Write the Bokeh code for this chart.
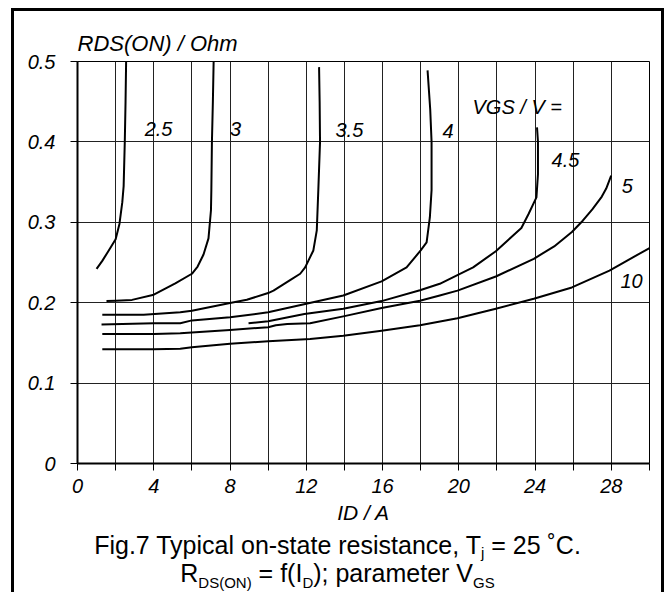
from bokeh.plotting import figure
from bokeh.layouts import column
from bokeh.models import (Range1d, FixedTicker, CustomJSTickFormatter, Label, Div)
from bokeh.core.properties import value
from bokeh.embed import file_html
from bokeh.resources import INLINE

# ---- data: RDS(on) [Ohm] versus ID [A] for each gate voltage VGS ----
vgs_labels = ["2.5", "3", "3.5", "4", "4.5", "5", "10"]

id_2v5 = [1.0, 1.3, 1.64, 2.0, 2.2, 2.35, 2.42, 2.48, 2.52, 2.55]
r_2v5 = [0.242, 0.252, 0.265, 0.279, 0.298, 0.325, 0.345, 0.40, 0.45, 0.50]

id_3v = [1.52, 2.0, 2.86, 4.0, 5.13, 6.0, 6.3, 6.61, 6.87, 7.0, 7.02, 7.05, 7.1, 7.14]
r_3v = [0.202, 0.2025, 0.2035, 0.21, 0.224, 0.236, 0.245, 0.26, 0.28, 0.315, 0.34, 0.40, 0.45, 0.50]

id_3v5 = [1.3, 3.47, 5.39, 6.0, 8.0, 8.88, 10.0, 10.28, 11.15, 11.68, 11.94, 12.37,
          12.55, 12.63, 12.72, 12.7, 12.67]
r_3v5 = [0.185, 0.185, 0.188, 0.19, 0.1995, 0.2036, 0.212, 0.215, 0.228, 0.236, 0.244,
         0.265, 0.29, 0.34, 0.40, 0.45, 0.493]

id_4v = [1.26, 4.0, 5.39, 6.0, 8.0, 10.0, 12.0, 13.94, 15.95, 17.26, 18.0, 18.31,
         18.48, 18.57, 18.57, 18.5, 18.36]
r_4v = [0.173, 0.1745, 0.1745, 0.178, 0.182, 0.188, 0.1986, 0.209, 0.2265, 0.244,
        0.265, 0.275, 0.306, 0.34, 0.40, 0.44, 0.489]

id_4v5 = [8.97, 10.0, 11.9, 13.94, 15.95, 17.96, 19.0, 19.9, 20.75, 21.94, 23.28,
          23.65, 24.07, 24.15, 24.15, 24.1]
r_4v5 = [0.1745, 0.177, 0.186, 0.1924, 0.202, 0.2155, 0.2235, 0.234, 0.244, 0.264,
         0.293, 0.31, 0.331, 0.36, 0.40, 0.418]

id_5v = [1.3, 4.0, 5.39, 8.0, 10.0, 10.4, 11.0, 12.2, 13.94, 15.95, 17.96, 19.0,
         19.93, 21.94, 23.93, 25.0, 25.93, 26.5, 27.0, 27.5, 27.73, 27.99]
r_5v = [0.161, 0.161, 0.162, 0.166, 0.1695, 0.172, 0.1735, 0.1745, 0.183, 0.1935,
        0.2025, 0.209, 0.215, 0.2326, 0.2546, 0.27, 0.288, 0.302, 0.316, 0.332,
        0.342, 0.358]

id_10v = [1.3, 4.0, 5.39, 6.0, 8.0, 10.0, 12.2, 13.94, 15.95, 17.96, 19.93, 21.94,
          23.93, 25.93, 27.9, 30.0]
r_10v = [0.142, 0.142, 0.1427, 0.1447, 0.149, 0.152, 0.155, 0.159, 0.165, 0.172,
         0.1807, 0.1924, 0.205, 0.219, 0.24, 0.268]

x_ticks = [0, 2, 4, 6, 8, 10, 12, 14, 16, 18, 20, 22, 24, 26, 28, 30]
y_ticks = [0, 0.1, 0.2, 0.3, 0.4, 0.5]

curves = [(id_2v5, r_2v5), (id_3v, r_3v), (id_3v5, r_3v5), (id_4v, r_4v),
          (id_4v5, r_4v5), (id_5v, r_5v), (id_10v, r_10v)]

# ---- layout (page pixels) ----
BOX_L, BOX_T, BORDER = 11, 8, 3          # outer frame position and thickness
IN_L, IN_T = BOX_L + BORDER, BOX_T + BORDER
FIG_W, FIG_H = 647, 523
CAP_H = 58
FL, FR, FT, FB = 77, 649, 61, 463        # plot frame edges on the page
FONT = "Liberation Sans"

p = figure(width=FIG_W, height=FIG_H, x_range=Range1d(0, 30), y_range=Range1d(0, 0.5),
           output_backend="svg", toolbar_location=None,
           min_border_left=FL - IN_L, min_border_right=IN_L + FIG_W - FR,
           min_border_top=FT - IN_T, min_border_bottom=IN_T + FIG_H - FB)
p.background_fill_color = "white"
p.border_fill_color = "white"
p.outline_line_color = "black"
p.outline_line_width = 1

# y-axis title on top-left of the frame
p.title.text = "RDS(ON) / Ohm"
p.title.align = "left"
p.title.offset = 0
p.title.standoff = 11
p.title.text_font = FONT
p.title.text_font_style = "italic"
p.title.text_font_size = "22px"
p.title.text_color = "black"

# grid
p.xgrid.ticker = FixedTicker(ticks=x_ticks)
p.ygrid.ticker = FixedTicker(ticks=y_ticks)
for g in (p.xgrid, p.ygrid):
    g.grid_line_color = "#222222"
    g.grid_line_width = 1

# axes
p.xaxis.ticker = FixedTicker(ticks=x_ticks)
p.yaxis.ticker = FixedTicker(ticks=y_ticks)
p.xaxis.formatter = CustomJSTickFormatter(
    code="return (tick % 4 == 0 && tick < 30) ? tick.toFixed(0) : '';")
p.yaxis.formatter = CustomJSTickFormatter(
    code="return tick == 0 ? '0' : tick.toFixed(1);")
for ax in (p.xaxis, p.yaxis):
    ax.axis_line_color = "black"
    ax.axis_line_width = 2
    ax.major_tick_line_color = "black"
    ax.major_tick_line_width = 1
    ax.major_tick_out = 7
    ax.major_tick_in = 0
    ax.minor_tick_line_color = None
    ax.major_label_text_font = FONT
    ax.major_label_text_font_style = "italic"
    ax.major_label_text_font_size = "20px"
    ax.major_label_text_color = "black"
p.xaxis.major_label_standoff = 8
p.yaxis.major_label_standoff = 15
p.xaxis.axis_label = "ID / A"
p.xaxis.axis_label_text_font = FONT
p.xaxis.axis_label_text_font_style = "italic"
p.xaxis.axis_label_text_font_size = "21px"
p.xaxis.axis_label_text_color = "black"
p.xaxis.axis_label_standoff = 5

# curves
for xs, ys in curves:
    p.line(xs, ys, line_color="black", line_width=2, line_join="round")

# curve labels (VGS values)
lab_x = [4.25, 8.29, 14.26, 19.43, 25.59, 28.84, 29.06]
lab_y = [0.416, 0.416, 0.415, 0.413, 0.378, 0.345, 0.2266]
p.text(x=lab_x, y=lab_y, text=vgs_labels, text_font=value(FONT),
       text_font_style="italic", text_font_size="20px", text_color="black",
       text_align="center", text_baseline="middle")
p.add_layout(Label(x=472 - FL, y=FB - 106, x_units="screen", y_units="screen",
                   text="VGS / V =", text_font=FONT,
                   text_font_style="italic", text_font_size="20px",
                   text_color="black", text_align="left", text_baseline="middle"))

# caption with subscripts
def sub(t, drop):
    return (f'<span style="font-size:15px;line-height:0;position:relative;'
            f'top:{drop}px">{t}</span>')


caption_html = (
    f'<div style="font-family:\'Liberation Sans\';font-size:25px;line-height:28px;'
    f'text-align:center;color:black;margin:-3px 0 0 0;padding:0;white-space:nowrap;'
    f'width:{FIG_W}px">'
    'Fig.7 Typical on-state resistance, T' + sub("j", 4) + ' = 25 \u02daC.<br>'
    'R' + sub("DS(ON)", 6) + ' = f(I' + sub("D", 6) + '); parameter V'
    + sub("GS", 6) + '</div>')
caption = Div(text=caption_html, width=FIG_W, height=CAP_H, margin=0,
              styles={"background": "white"})

page = column(p, caption, spacing=0, margin=(BOX_T, 0, 0, BOX_L),
              styles={"border-top": f"{BORDER}px solid black",
                      "border-left": f"{BORDER}px solid black",
                      "border-right": f"{BORDER}px solid black",
                      "background": "white"})

open("out.html", "w").write(file_html(page, INLINE))
